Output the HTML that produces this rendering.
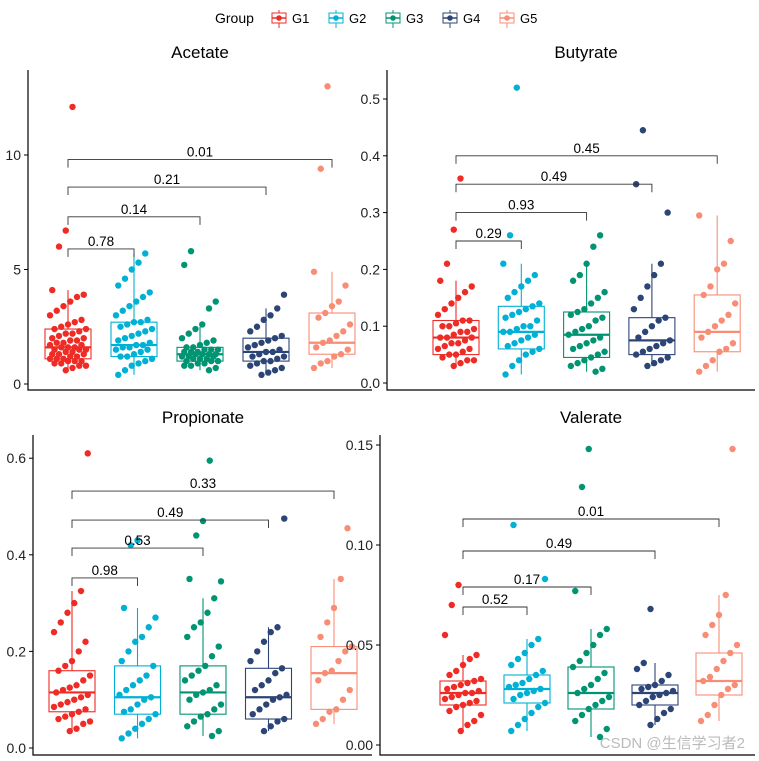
<!DOCTYPE html>
<html><head><meta charset="utf-8">
<style>
html,body{margin:0;padding:0;background:#fff;}
svg{display:block;font-family:"Liberation Sans",Arial,sans-serif;}
</style></head>
<body>
<svg id="chart" width="759" height="761" viewBox="0 0 759 761"></svg>
<script>
const groups = ["G1","G2","G3","G4","G5"];
const colors = ["#EE2B25","#00B0D5","#009473","#2C4576","#F88D76"];

// Acetate
const acetateG1=[0.6,0.7,0.8,0.8,0.9,0.9,1.0,1.0,1.0,1.1,1.1,1.1,1.2,1.2,1.3,1.3,1.3,1.4,1.4,1.5,1.5,1.5,1.6,1.6,1.6,1.7,1.7,1.8,1.8,1.9,1.9,2.0,2.0,2.1,2.2,2.2,2.3,2.4,2.4,2.5,2.6,2.7,2.8,3.0,3.2,3.4,3.6,3.8,3.9,4.1,6.0,6.7,12.1];
const acetateG2=[0.4,0.6,0.8,0.9,1.0,1.1,1.2,1.2,1.3,1.4,1.5,1.5,1.6,1.6,1.7,1.7,1.8,1.9,2.0,2.1,2.2,2.3,2.4,2.5,2.6,2.7,2.7,2.8,3.0,3.2,3.4,3.6,3.8,4.0,4.3,4.6,5.0,5.3,5.7];
const acetateG3=[0.6,0.7,0.8,0.8,0.9,0.9,1.0,1.0,1.0,1.1,1.1,1.1,1.2,1.2,1.2,1.3,1.3,1.3,1.3,1.4,1.4,1.4,1.5,1.5,1.5,1.6,1.6,1.7,1.8,1.9,2.0,2.2,2.4,2.6,3.3,3.6,5.2,5.8];
const acetateG4=[0.4,0.5,0.6,0.7,0.8,0.9,1.0,1.0,1.1,1.2,1.2,1.3,1.4,1.4,1.5,1.6,1.7,1.8,1.9,2.0,2.1,2.3,2.5,2.8,3.0,3.3,3.9];
const acetateG5=[0.7,0.9,1.0,1.2,1.3,1.5,1.6,1.8,1.9,2.1,2.3,2.6,2.9,3.1,3.4,3.6,4.3,4.9,9.4,13.0];
const acetateStats=[[0.6,1.1,1.6,2.4,4.1],[0.4,1.2,1.7,2.7,5.7],[0.6,1.0,1.3,1.6,2.5],[0.4,1.0,1.4,2.0,3.3],[0.7,1.3,1.8,3.1,4.9]];
const acetateBrackets=[[1,0.78,5.9],[2,0.14,7.3],[3,0.21,8.6],[4,0.01,9.8]];
const acetateTicks=[0,5,10];

// Butyrate
const butyrateG1=[.03,.035,.04,.04,.045,.05,.05,.055,.06,.06,.065,.07,.07,.075,.08,.08,.08,.085,.09,.09,.095,.1,.1,.105,.11,.11,.12,.13,.14,.15,.16,.17,.18,.21,.27,.36];
const butyrateG2=[.015,.03,.04,.05,.055,.06,.065,.07,.075,.08,.085,.09,.09,.095,.1,.1,.11,.115,.12,.125,.13,.135,.14,.15,.16,.17,.18,.19,.21,.26,.52];
const butyrateG3=[.02,.025,.03,.035,.04,.045,.05,.055,.06,.065,.07,.075,.08,.085,.09,.095,.1,.11,.115,.12,.125,.13,.14,.15,.16,.18,.19,.21,.24,.26];
const butyrateG4=[.03,.035,.04,.045,.05,.055,.06,.065,.07,.075,.08,.09,.1,.11,.115,.13,.15,.17,.19,.21,.30,.35,.445];
const butyrateG5=[.02,.03,.04,.055,.06,.07,.08,.09,.1,.11,.12,.14,.155,.17,.2,.21,.25,.295];
const butyrateStats=[[0.03,0.05,0.08,0.11,0.18],[0.015,0.06,0.09,0.135,0.21],[0.02,0.045,0.085,0.125,0.21],[0.03,0.05,0.075,0.115,0.21],[0.02,0.055,0.09,0.155,0.295]];
const butyrateBrackets=[[1,0.29,0.25],[2,0.93,0.30],[3,0.49,0.35],[4,0.45,0.40]];
const butyrateTicks=[0,0.1,0.2,0.3,0.4,0.5];

// Propionate
const propionateG1=[.035,.04,.05,.055,.06,.065,.07,.075,.08,.085,.09,.095,.1,.105,.11,.115,.12,.125,.13,.14,.15,.16,.17,.18,.2,.22,.24,.26,.28,.3,.325,.61];
const propionateG2=[.02,.03,.04,.05,.06,.07,.075,.08,.09,.1,.105,.11,.12,.13,.14,.15,.17,.18,.2,.22,.23,.25,.27,.29,.42,.43];
const propionateG3=[.025,.035,.045,.055,.065,.07,.08,.09,.1,.11,.115,.12,.13,.14,.15,.16,.17,.19,.21,.23,.25,.26,.28,.31,.345,.35,.44,.47,.595];
const propionateG4=[.035,.045,.055,.06,.07,.08,.09,.1,.105,.11,.12,.13,.14,.155,.165,.18,.2,.22,.24,.25,.475];
const propionateG5=[.05,.06,.075,.08,.1,.12,.14,.155,.16,.18,.2,.21,.23,.26,.29,.35,.455];
const propionateStats=[[0.035,0.075,0.115,0.16,0.325],[0.02,0.07,0.105,0.17,0.29],[0.025,0.07,0.115,0.17,0.31],[0.035,0.06,0.105,0.165,0.25],[0.05,0.08,0.155,0.21,0.35]];
const propionateBrackets=[[1,0.98,0.352],[2,0.53,0.414],[3,0.49,0.472],[4,0.33,0.532]];
const propionateTicks=[0,0.2,0.4,0.6];

// Valerate
const valerateG1=[.007,.01,.012,.015,.017,.019,.02,.021,.022,.023,.024,.025,.026,.026,.027,.028,.029,.03,.031,.032,.033,.035,.037,.04,.043,.045,.055,.07,.08];
const valerateG2=[.007,.01,.013,.016,.019,.021,.023,.025,.026,.027,.028,.029,.03,.031,.033,.035,.037,.04,.043,.046,.05,.053,.083,.11];
const valerateG3=[.004,.008,.012,.015,.018,.02,.022,.024,.026,.028,.03,.033,.036,.039,.042,.046,.05,.055,.058,.077,.129,.148];
const valerateG4=[.01,.013,.016,.018,.02,.022,.024,.025,.026,.027,.028,.029,.03,.032,.035,.038,.041,.068];
const valerateG5=[.012,.015,.02,.025,.028,.03,.032,.034,.038,.042,.046,.05,.055,.06,.065,.075,.148];
const valerateStats=[[0.007,0.02,0.026,0.032,0.045],[0.007,0.021,0.028,0.035,0.053],[0.004,0.018,0.026,0.039,0.058],[0.01,0.02,0.026,0.03,0.041],[0.012,0.025,0.032,0.046,0.075]];
const valerateBrackets=[[1,0.52,0.069],[2,0.17,0.079],[3,0.49,0.097],[4,0.01,0.113]];
const valerateTicks=[0,0.05,0.10,0.15];

const NS="http://www.w3.org/2000/svg";
const svg=document.getElementById("chart");
function mk(tag,attrs,parent){const e=document.createElementNS(NS,tag);for(const k in attrs)e.setAttribute(k,attrs[k]);(parent||svg).appendChild(e);return e;}

const panels=[
 {key:"acetate",title:"Acetate",left:28,right:372,top:70,bottom:390,y0:384,ppu:22.9,c0:68,step:66,tx:200,ty:58,data:[acetateG1,acetateG2,acetateG3,acetateG4,acetateG5],stats:acetateStats,br:acetateBrackets,ticks:acetateTicks,fmt:v=>String(v)},
 {key:"butyrate",title:"Butyrate",left:387,right:755,top:70,bottom:390,y0:383,ppu:568,c0:456,step:65.3,tx:586,ty:58,data:[butyrateG1,butyrateG2,butyrateG3,butyrateG4,butyrateG5],stats:butyrateStats,br:butyrateBrackets,ticks:butyrateTicks,fmt:v=>v.toFixed(1)},
 {key:"propionate",title:"Propionate",left:33,right:372,top:435,bottom:755,y0:748,ppu:483,c0:72,step:65.5,tx:203,ty:423,data:[propionateG1,propionateG2,propionateG3,propionateG4,propionateG5],stats:propionateStats,br:propionateBrackets,ticks:propionateTicks,fmt:v=>v.toFixed(1)},
 {key:"valerate",title:"Valerate",left:380,right:755,top:435,bottom:755,y0:745,ppu:2000,c0:463,step:64,tx:591,ty:423,data:[valerateG1,valerateG2,valerateG3,valerateG4,valerateG5],stats:valerateStats,br:valerateBrackets,ticks:valerateTicks,fmt:v=>v.toFixed(2)}
];

panels.forEach(p=>{
 const g=mk("g",{});
 
 
 const Y=v=>p.y0-v*p.ppu;
 const X=i=>p.c0+i*p.step;
 const t=mk("text",{x:p.tx,y:p.ty,"text-anchor":"middle","font-size":17,fill:"#000"},g);t.textContent=p.title;
 
 
 const ax=mk("path",{d:`M${p.left},${p.top}V${p.bottom}H${p.right}`,stroke:"#000","stroke-width":1.2,fill:"none"},g);
 
 
 p.ticks.forEach(v=>{
  mk("line",{x1:p.left-4,x2:p.left,y1:Y(v),y2:Y(v),stroke:"#000"},g);
  const tl=mk("text",{x:p.left-7,y:Y(v)+5,"text-anchor":"end","font-size":14,fill:"#222"},g);tl.textContent=p.fmt(v);
  
  
 });
 p.stats.forEach((s,i)=>{
  const c=X(i),col=colors[i],hw=23;
  const b=mk("g",{},g);
  
  
  mk("line",{x1:c,x2:c,y1:Y(s[0]),y2:Y(s[1]),stroke:col,"stroke-width":1.1},b);
  mk("line",{x1:c,x2:c,y1:Y(s[3]),y2:Y(s[4]),stroke:col,"stroke-width":1.1},b);
  mk("rect",{x:c-hw,y:Y(s[3]),width:2*hw,height:Y(s[1])-Y(s[3]),fill:"none",stroke:col,"stroke-width":1.1},b);
  mk("line",{x1:c-hw,x2:c+hw,y1:Y(s[2]),y2:Y(s[2]),stroke:col,"stroke-width":2.2},b);
  p.data[i].forEach((v,j)=>{
   const jit=(((j*37+i*11+7)%17)/16-0.5)*36;
   const pt=mk("circle",{cx:c+jit,cy:Y(v),r:3.2,fill:col},b);
   
   
  });
 });
 p.br.forEach(bk=>{
  const x1=X(0),x2=X(bk[0]),y=Y(bk[2]);
  const bg=mk("g",{},g);
  
  
  mk("path",{d:`M${x1},${y+8}V${y}H${x2}V${y+8}`,stroke:"#333","stroke-width":0.9,fill:"none"},bg);
  const lt=mk("text",{x:(x1+x2)/2,y:y-3,"text-anchor":"middle","font-size":13.5,fill:"#000"},bg);lt.textContent=String(bk[1]);
 });
});

// legend
const lg=mk("g",{});


const lt=mk("text",{x:215,y:23,"font-size":14,fill:"#000"},lg);lt.textContent="Group";
groups.forEach((gname,i)=>{
 const x=270+i*57;
 const e=mk("g",{},lg);
 
 
 mk("line",{x1:x+9,x2:x+9,y1:10,y2:28,stroke:colors[i]},e);
 mk("rect",{x:x+2,y:13,width:14,height:10,fill:"#fff",stroke:colors[i]},e);
 mk("line",{x1:x+2,x2:x+16,y1:18,y2:18,stroke:colors[i],"stroke-width":1.5},e);
 mk("circle",{cx:x+9,cy:18,r:2.8,fill:colors[i]},e);
 const tt=mk("text",{x:x+22,y:23,"font-size":13,fill:"#000"},e);tt.textContent=gname;
});
const wm=mk("text",{x:745,y:748,"text-anchor":"end","font-size":15,fill:"#bbb","font-family":"Liberation Sans, Noto Sans CJK SC, sans-serif"});
wm.textContent="CSDN @生信学习者2";


</script>
</body></html>
